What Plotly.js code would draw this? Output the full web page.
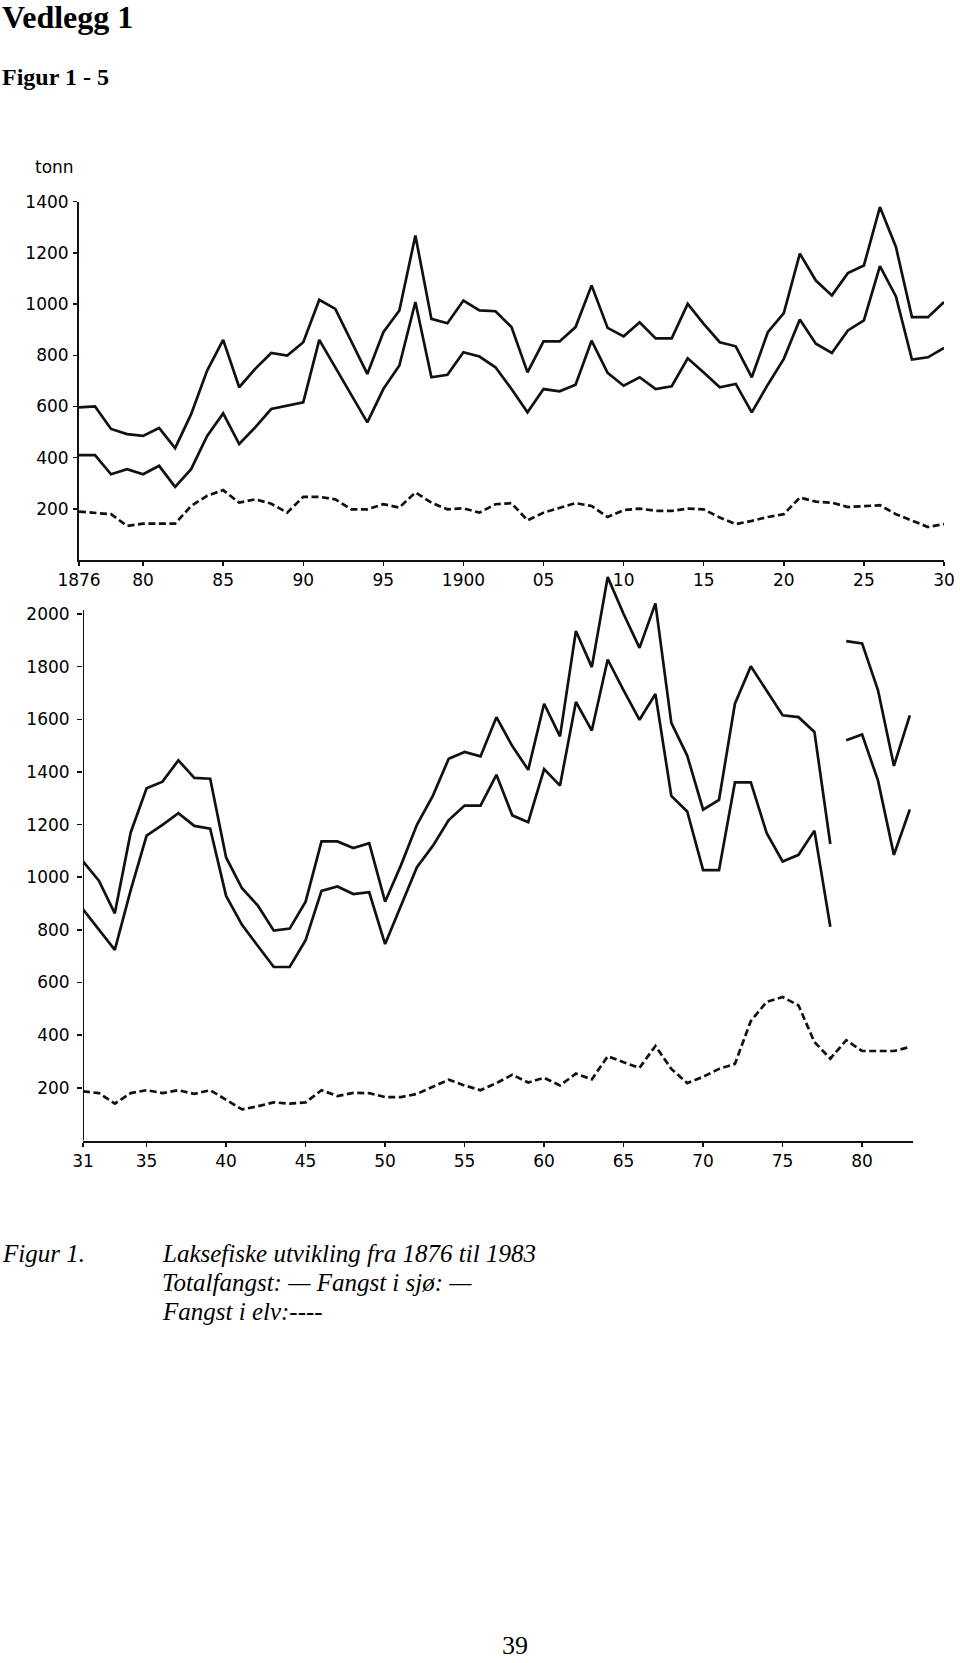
<!DOCTYPE html>
<html>
<head>
<meta charset="utf-8">
<script src="https://cdn.plot.ly/plotly-3.0.1.min.js"></script>
<style>
html,body{margin:0;padding:0;background:#fff;}
#chart{width:960px;height:1663px;}
</style>
</head>
<body>
<div id="chart"></div>
<script>
// ---- Data: 1876-1930 (tonn) ----
const years1 = [1876,1877,1878,1879,1880,1881,1882,1883,1884,1885,1886,1887,1888,1889,1890,1891,1892,1893,1894,1895,1896,1897,1898,1899,1900,1901,1902,1903,1904,1905,1906,1907,1908,1909,1910,1911,1912,1913,1914,1915,1916,1917,1918,1919,1920,1921,1922,1923,1924,1925,1926,1927,1928,1929,1930];
const total1 = [596,600,512,492,485,516,437,570,740,860, 675,747,809,799,851,1017,981,857,727,890, 975,1268,942,925,1014,975,972,910,733,854, 854,910,1073,907,874,929,866,866,1001,923, 851,835,714,890,965,1197,1092,1034,1121,1151, 1379,1223,949,949,1008];
const sea1 = [410,410,335,355,335,368,286,355,485,573, 453,518,590,603,616,860,753,649,538,668, 760,1008,714,724,812,795,753,668,577,668, 659,685,857,731,681,714,668,679,788,733, 675,688,577,685,786,940,845,809,897,936, 1148,1030,783,792,829];
const river1 = [189,185,179,133,142,142,142,211,251,273, 224,237,220,185,247,247,237,198,198,218, 205,264,224,198,202,185,218,222,155,185, 205,222,211,168,195,201,192,192,201,198, 166,140,153,168,179,244,228,224,207,211, 214,179,155,129,140];

// ---- Data: 1931-1983 (tonn) ----
const years2 = [1931,1932,1933,1934,1935,1936,1937,1938,1939,1940,1941,1942,1943,1944,1945,1946,1947,1948,1949,1950,1951,1952,1953,1954,1955,1956,1957,1958,1959,1960,1961,1962,1963,1964,1965,1966,1967,1968,1969,1970,1971,1972,1973,1974,1975,1976,1977,1978,1979,1980,1981,1982,1983];
const total2 = [1060,987,863,1170,1338,1363,1444,1377,1374,1075, 958,892,797,805,907,1136,1136,1111,1129,907, 1046,1199,1309,1450,1476,1459,1608,1498,1408,1659, 1535,1935,1798,2140,2000,1871,2040,1586,1462,1257, 1294,1659,1801,1710,1615,1608,1552,1126,1897,1888, 1710,1423,1615];
const sea2 = [878,802,724,951,1158,1199,1243,1195,1184,929, 819,739,659,659,761,948,965,936,943,746, 892,1038,1119,1217,1272,1272,1389,1235,1209,1411, 1348,1666,1557,1827,1710,1598,1696,1309,1250,1027, 1027,1360,1360,1167,1060,1085,1177,812,1520,1542, 1367,1085,1257];
const river2 = [187,180,140,180,191,180,191,177,191,155, 118,130,145,140,145,191,169,181,180,165, 165,177,203,231,209,191,218,250,220,238, 209,254,232,320,297,276,359,272,218,242, 272,291,454,527,545,513,374,311,381,340, 340,340,355];
// series break between 1978 and 1979 (index of first year after the break)
const breakIndex = 48;

// ---- Tick labels ----
const xTickVals1 = [1876,1880,1885,1890,1895,1900,1905,1910,1915,1920,1925,1930];
const xTickText1 = ["1876","80","85","90","95","1900","05","10","15","20","25","30"];
const yTickVals1 = [200,400,600,800,1000,1200,1400];
const xTickVals2 = [1931,1935,1940,1945,1950,1955,1960,1965,1970,1975,1980];
const xTickText2 = ["31","35","40","45","50","55","60","65","70","75","80"];
const yTickVals2 = [200,400,600,800,1000,1200,1400,1600,1800,2000];

// ---- Layout helpers (pixel -> paper) ----
const W = 960, H = 1663;
const px = v => v / W;
const py = v => 1 - v / H;
const INK = '#111';
const solid = {color: INK, width: 2.7};
const dashed = {color: INK, width: 2.7, dash: '7px,3.5px'};
const tickFont = {family: 'DejaVu Sans, sans-serif', size: 17, color: '#000'};

const traces = [
  {x: years1, y: total1, xaxis: 'x', yaxis: 'y', mode: 'lines', line: solid, name: 'Totalfangst'},
  {x: years1, y: sea1, xaxis: 'x', yaxis: 'y', mode: 'lines', line: solid, name: 'Fangst i sjø'},
  {x: years1, y: river1, xaxis: 'x', yaxis: 'y', mode: 'lines', line: dashed, name: 'Fangst i elv'},
  {x: years2.slice(0, breakIndex), y: total2.slice(0, breakIndex), xaxis: 'x2', yaxis: 'y2', mode: 'lines', line: solid, name: 'Totalfangst'},
  {x: years2.slice(breakIndex), y: total2.slice(breakIndex), xaxis: 'x2', yaxis: 'y2', mode: 'lines', line: solid, name: 'Totalfangst'},
  {x: years2.slice(0, breakIndex), y: sea2.slice(0, breakIndex), xaxis: 'x2', yaxis: 'y2', mode: 'lines', line: solid, name: 'Fangst i sjø'},
  {x: years2.slice(breakIndex), y: sea2.slice(breakIndex), xaxis: 'x2', yaxis: 'y2', mode: 'lines', line: solid, name: 'Fangst i sjø'},
  {x: years2, y: river2, xaxis: 'x2', yaxis: 'y2', mode: 'lines', line: dashed, name: 'Fangst i elv'}
];

const axisCommon = {
  showgrid: false, zeroline: false, showline: true, linecolor: INK, linewidth: 2,
  ticks: 'outside', tickcolor: INK, tickwidth: 1.5, tickfont: tickFont, fixedrange: true
};

const serif = 'Liberation Serif, Times New Roman, serif';
const ann = (text, x, y, size, opts) => Object.assign({
  text: text, xref: 'paper', yref: 'paper', x: px(x), y: py(y),
  xanchor: 'left', yanchor: 'middle', showarrow: false,
  font: {family: serif, size: size, color: '#000'}
}, opts || {});

const layout = {
  width: W, height: H,
  margin: {l: 0, r: 0, t: 0, b: 0, pad: 0},
  paper_bgcolor: '#fff', plot_bgcolor: 'rgba(0,0,0,0)',
  showlegend: false,
  xaxis: Object.assign({}, axisCommon, {
    domain: [px(79), px(944)], range: [1876, 1930], anchor: 'y',
    tickmode: 'array', tickvals: xTickVals1, ticktext: xTickText1, ticklen: 4, ticklabelstandoff: 0
  }),
  yaxis: Object.assign({}, axisCommon, {
    domain: [py(560), py(201.7)], range: [0, 1400], anchor: 'x',
    tickmode: 'array', tickvals: yTickVals1, ticklen: 4, ticklabelstandoff: 1
  }),
  xaxis2: Object.assign({}, axisCommon, {
    domain: [px(83), px(913)], range: [1931, 1983.2], anchor: 'y2',
    tickmode: 'array', tickvals: xTickVals2, ticktext: xTickText2, ticklen: 4, ticklabelstandoff: 0
  }),
  yaxis2: Object.assign({}, axisCommon, {
    domain: [py(1140.5), py(561.3)], range: [0, 2200], anchor: 'x2', showline: false,
    tickmode: 'array', tickvals: yTickVals2, ticklen: 5, ticklabelstandoff: 4
  }),
  shapes: [
    {type: 'line', xref: 'x2', yref: 'y2', x0: 1931, x1: 1931, y0: 0, y1: 2015,
     line: {color: INK, width: 2}}
  ],
  annotations: [
    ann('<b>Vedlegg 1</b>', 0, 17, 32),
    ann('<b>Figur 1 - 5</b>', 0, 77, 24),
    {text: 'tonn', xref: 'paper', yref: 'paper', x: px(54), y: py(167), xanchor: 'center', yanchor: 'middle',
     showarrow: false, font: {family: 'DejaVu Sans, sans-serif', size: 17, color: '#000'}},
    ann('<i>Figur 1.</i>', 0, 1253, 25),
    ann('<i>Laksefiske utvikling fra 1876 til 1983</i>', 160, 1253, 25),
    ann('<i>Totalfangst: — Fangst i sjø: —</i>', 160, 1282, 25),
    ann('<i>Fangst i elv:----</i>', 160, 1311, 25),
    ann('39', 515, 1645, 26, {xanchor: 'center'})
  ]
};

Plotly.newPlot('chart', traces, layout, {staticPlot: true, displayModeBar: false});
</script>
</body>
</html>
